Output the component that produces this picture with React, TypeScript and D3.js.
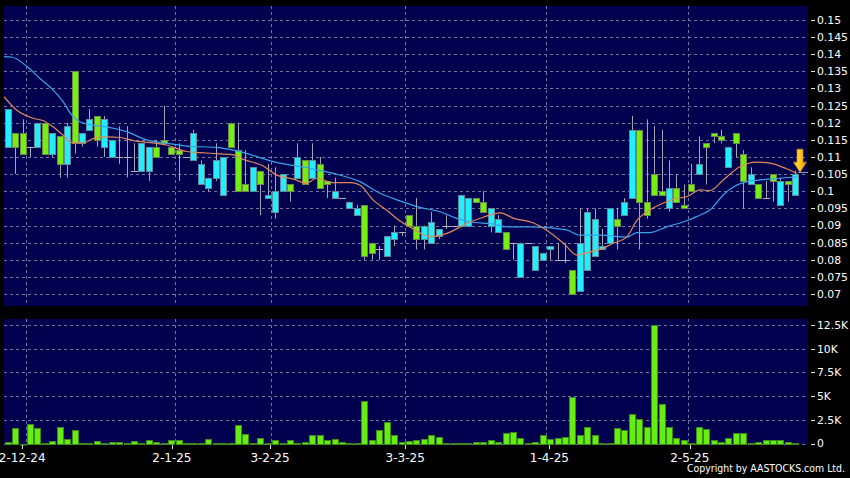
import React from "react";
import * as d3 from "d3";

// ---- Data ----
const opens = [
  0.124, 0.113, 0.111, 0.113, 0.120, 0.111, 0.117, 0.108, 0.119, 0.114,
  0.117, 0.121, 0.115, 0.121, 0.115, 0.110, 0.110, 0.106, 0.114, 0.113,
  0.110, 0.114, 0.111, 0.111, 0.110, 0.117, 0.108, 0.104, 0.109, 0.110,
  0.113, 0.100, 0.100, 0.107, 0.102, 0.099, 0.100, 0.105, 0.100, 0.110,
  0.102, 0.109, 0.101, 0.102, 0.100, 0.098, 0.097, 0.095, 0.081, 0.082,
  0.083, 0.087, 0.088, 0.088, 0.090, 0.086, 0.090, 0.091, 0.089, 0.090,
  0.090, 0.099, 0.098, 0.097, 0.094, 0.095, 0.092, 0.083, 0.085, 0.085,
  0.085, 0.084, 0.082, 0.084, 0.080, 0.080, 0.070, 0.085, 0.094, 0.092,
  0.084, 0.095, 0.090, 0.097, 0.118, 0.097, 0.093, 0.099, 0.099, 0.101,
  0.097, 0.095, 0.100, 0.108, 0.113, 0.116, 0.115, 0.113, 0.114, 0.103,
  0.105, 0.098, 0.098, 0.103, 0.103, 0.102, 0.105,
];
const closes = [
  0.113, 0.117, 0.117, 0.113, 0.113, 0.120, 0.111, 0.116, 0.108, 0.135,
  0.114, 0.118, 0.122, 0.113, 0.110, 0.110, 0.110, 0.106, 0.106, 0.106,
  0.113, 0.115, 0.113, 0.112, 0.110, 0.109, 0.102, 0.101, 0.104, 0.099,
  0.120, 0.112, 0.102, 0.100, 0.106, 0.098, 0.094, 0.100, 0.102, 0.104,
  0.109, 0.104, 0.108, 0.103, 0.098, 0.098, 0.095, 0.093, 0.096, 0.085,
  0.083, 0.081, 0.086, 0.088, 0.093, 0.090, 0.086, 0.085, 0.087, 0.090,
  0.090, 0.090, 0.090, 0.098, 0.097, 0.090, 0.088, 0.088, 0.085, 0.075,
  0.085, 0.077, 0.080, 0.083, 0.080, 0.080, 0.077, 0.071, 0.077, 0.081,
  0.083, 0.085, 0.092, 0.093, 0.098, 0.118, 0.097, 0.105, 0.100, 0.095,
  0.101, 0.096, 0.102, 0.105, 0.114, 0.117, 0.116, 0.107, 0.117, 0.111,
  0.102, 0.102, 0.098, 0.105, 0.096, 0.103, 0.099,
];
const highs = [
  0.124, 0.117, 0.121, 0.113, 0.120, 0.120, 0.117, 0.116, 0.120, 0.135,
  0.117, 0.124, 0.122, 0.122, 0.115, 0.119, 0.119, 0.114, 0.114, 0.113,
  0.115, 0.125, 0.113, 0.114, 0.110, 0.118, 0.109, 0.104, 0.114, 0.110,
  0.120, 0.120, 0.112, 0.107, 0.106, 0.108, 0.107, 0.105, 0.102, 0.114,
  0.109, 0.114, 0.110, 0.103, 0.104, 0.098, 0.097, 0.096, 0.096, 0.085,
  0.084, 0.087, 0.090, 0.088, 0.093, 0.098, 0.090, 0.094, 0.089, 0.093,
  0.090, 0.099, 0.098, 0.098, 0.100, 0.095, 0.093, 0.088, 0.085, 0.085,
  0.085, 0.084, 0.082, 0.084, 0.085, 0.085, 0.077, 0.095, 0.095, 0.095,
  0.089, 0.095, 0.095, 0.098, 0.122, 0.118, 0.121, 0.119, 0.118, 0.109,
  0.105, 0.102, 0.108, 0.116, 0.114, 0.117, 0.118, 0.113, 0.117, 0.112,
  0.107, 0.102, 0.103, 0.105, 0.104, 0.103, 0.106,
];
const lows = [
  0.113, 0.105, 0.111, 0.110, 0.113, 0.111, 0.110, 0.104, 0.104, 0.111,
  0.113, 0.118, 0.113, 0.110, 0.110, 0.108, 0.104, 0.106, 0.106, 0.103,
  0.110, 0.114, 0.111, 0.103, 0.110, 0.109, 0.102, 0.100, 0.103, 0.099,
  0.113, 0.100, 0.100, 0.100, 0.093, 0.098, 0.092, 0.100, 0.097, 0.104,
  0.102, 0.104, 0.101, 0.098, 0.098, 0.098, 0.095, 0.093, 0.080, 0.080,
  0.080, 0.081, 0.084, 0.087, 0.090, 0.083, 0.083, 0.085, 0.086, 0.089,
  0.090, 0.090, 0.090, 0.097, 0.094, 0.088, 0.088, 0.083, 0.080, 0.075,
  0.085, 0.077, 0.080, 0.080, 0.080, 0.079, 0.070, 0.071, 0.077, 0.081,
  0.083, 0.085, 0.083, 0.093, 0.098, 0.083, 0.092, 0.099, 0.099, 0.094,
  0.097, 0.095, 0.100, 0.105, 0.102, 0.114, 0.114, 0.107, 0.110, 0.095,
  0.102, 0.098, 0.098, 0.097, 0.096, 0.097, 0.099,
];
// volume in thousands
const volumes = [
  0.12, 1.65, 0.0, 2.05, 1.62, 0.03, 0.28, 1.75, 0.5, 1.42,
  0.02, 0.02, 0.28, 0.02, 0.12, 0.12, 0.02, 0.28, 0.02, 0.35,
  0.2, 0.05, 0.4, 0.35, 0.1, 0.1, 0.1, 0.5, 0.1, 0.03,
  0.03, 1.9, 1.05, 0.03, 0.55, 0.1, 0.4, 0.03, 0.4, 0.03,
  0.2, 0.85, 0.9, 0.4, 0.5, 0.12, 0.1, 0.1, 4.5, 0.35,
  1.4, 2.3, 0.85, 0.15, 0.25, 0.4, 0.45, 0.92, 0.65, 0.05,
  0.02, 0.05, 0.05, 0.15, 0.2, 0.42, 0.2, 1.15, 1.25, 0.56,
  0.02, 0.2, 0.92, 0.45, 0.55, 0.7, 4.95, 0.88, 1.78, 0.86,
  0.03, 0.02, 1.65, 1.4, 3.1, 2.55, 1.7, 12.45, 4.15, 1.76,
  0.57, 0.42, 0.08, 1.78, 1.5, 0.36, 0.15, 0.6, 1.12, 1.12,
  0.02, 0.12, 0.42, 0.42, 0.42, 0.15, 0.05,
];

// Moving averages: [candle index, value]
const maShort: [number, number][] = [
  [-0.5, 0.1276], [1.2, 0.1237], [3.4, 0.1213], [4.8, 0.1206], [6.1, 0.1188],
  [7.7, 0.1159], [8.6, 0.1142], [10.2, 0.1142], [11.7, 0.1155], [13.3, 0.1159],
  [15.1, 0.1157], [16.9, 0.1148], [19.2, 0.1142], [21.4, 0.1135], [24.1, 0.1116],
  [25.9, 0.1113], [28.6, 0.1109], [30.4, 0.1106], [31.7, 0.1093], [34.4, 0.1074],
  [36.2, 0.1047], [38.4, 0.1036], [40.2, 0.1023], [41.6, 0.1038], [43.8, 0.1025],
  [46.1, 0.1025], [47.4, 0.1018], [49.2, 0.0974], [51.0, 0.0945], [52.8, 0.0913],
  [54.6, 0.089], [56.8, 0.0867], [59.1, 0.0877], [61.8, 0.0906], [64.0, 0.0924],
  [66.3, 0.0937], [68.1, 0.0921], [70.7, 0.0908], [72.5, 0.0887], [74.8, 0.0848],
  [76.6, 0.0814], [78.4, 0.0823], [79.7, 0.083], [81.5, 0.0848], [83.3, 0.0866],
  [84.7, 0.0916], [86.4, 0.0945], [88.2, 0.0965], [90.0, 0.0979], [91.4, 0.0984],
  [93.2, 0.1004], [94.5, 0.1002], [96.3, 0.1033], [98.6, 0.1072], [100.8, 0.1085],
  [102.6, 0.1082], [104.7, 0.1067], [106.2, 0.1052],
];
const maLong: [number, number][] = [
  [-0.5, 0.1393], [0.5, 0.1392], [2.6, 0.1364], [4.3, 0.133], [6.1, 0.1296],
  [7.5, 0.126], [8.6, 0.1223], [9.7, 0.1203], [11.5, 0.1193], [13.3, 0.1188],
  [16.0, 0.1174], [18.7, 0.115], [21.4, 0.114], [24.1, 0.1132], [28.1, 0.1128],
  [30.4, 0.112], [36.6, 0.1082], [40.7, 0.1067], [43.8, 0.1052], [47.4, 0.1028],
  [50.1, 0.0994], [52.8, 0.0972], [55.5, 0.0953], [58.2, 0.094], [60.4, 0.0921],
  [62.2, 0.0911], [65.4, 0.0904], [67.2, 0.0896], [70.7, 0.0896], [75.2, 0.0887],
  [77.0, 0.0872], [79.7, 0.0872], [83.3, 0.0866], [84.7, 0.0879], [86.4, 0.0879],
  [88.7, 0.0896], [91.4, 0.0914], [92.7, 0.0926], [94.5, 0.0945], [96.3, 0.0989],
  [97.7, 0.1013], [99.5, 0.1028], [101.3, 0.1033], [103.9, 0.1038], [106.2, 0.1042],
];

const priceTicks = [0.07, 0.075, 0.08, 0.085, 0.09, 0.095, 0.1, 0.105, 0.11, 0.115, 0.12, 0.125, 0.13, 0.135, 0.14, 0.145, 0.15];
const priceTickLabels = ["0.07", "0.075", "0.08", "0.085", "0.09", "0.095", "0.1", "0.105", "0.11", "0.115", "0.12", "0.125", "0.13", "0.135", "0.14", "0.145", "0.15"];
const volTicks = [0, 2.5, 5, 7.5, 10, 12.5];
const volTickLabels = ["0", "2.5K", "5K", "7.5K", "10K", "12.5K"];
const dateGridIdx = [2.5, 22.5, 35.5, 53.5, 72.5, 91.5];
const dateLabelIdx = [1.95, 22.1, 35.3, 53.5, 72.9, 91.8];
const dateLabels = ["2-12-24", "2-1-25", "3-2-25", "3-3-25", "1-4-25", "2-5-25"];

// ---- Layout ----
const W = 850, H = 478;
const PX0 = 4, PX1 = 808;
const PY0 = 6, PY1 = 306;
const VY0 = 319, VY1 = 445;
const BG = "#00004e";
const GRID = "#7474a0";
const FONT = "'DejaVu Sans', Verdana, sans-serif";

export default function App() {
  const N = opens.length;
  const x = d3.scaleLinear().domain([0, N - 1]).range([7.7, 795.3]);
  const y = d3.scaleLinear().domain([0.07, 0.15]).range([294, 20]);
  const vy = d3.scaleLinear().domain([0, 12.5]).range([443.5, 325]);

  const lineGen = d3
    .line<[number, number]>()
    .x((d) => x(d[0]))
    .y((d) => y(d[1]))
    .curve(d3.curveMonotoneX);

  const bodyW = 6;
  const r = (v: number) => Math.round(v) + 0.5;

  const lastX = x(N - 1) + 4.7;
  const tipY = y(opens[N - 1]) - 2;

  return (
    <svg
      width={W}
      height={H}
      style={{ position: "absolute", left: 0, top: 0, display: "block" }}
      xmlns="http://www.w3.org/2000/svg"
    >
      <defs>
        <clipPath id="pclip">
          <rect x={PX0} y={PY0} width={PX1 - PX0} height={PY1 - PY0} />
        </clipPath>
        <linearGradient id="arrowGrad" x1="0" y1="0" x2="1" y2="0">
          <stop offset="0" stopColor="#ffe040" />
          <stop offset="0.5" stopColor="#ffc820" />
          <stop offset="1" stopColor="#e89010" />
        </linearGradient>
      </defs>
      <rect x={0} y={0} width={W} height={H} fill="#000" />
      <rect x={PX0} y={PY0} width={PX1 - PX0} height={PY1 - PY0} fill={BG} />
      <rect x={PX0} y={VY0} width={PX1 - PX0} height={VY1 - VY0} fill={BG} />

      {/* price grid */}
      {priceTicks.map((t, i) => (
        <line key={"pg" + i} x1={PX0} x2={PX1} y1={r(y(t))} y2={r(y(t))} stroke={GRID} strokeWidth={1} strokeDasharray="3,3" />
      ))}
      {volTicks.map((t, i) => (
        <line key={"vg" + i} x1={PX0} x2={PX1} y1={r(vy(t))} y2={r(vy(t))} stroke={GRID} strokeWidth={1} strokeDasharray="3,3" />
      ))}
      {dateGridIdx.map((d, i) => (
        <g key={"dg" + i}>
          <line x1={r(x(d))} x2={r(x(d))} y1={PY0} y2={PY1} stroke={GRID} strokeWidth={1} strokeDasharray="3,3" />
          <line x1={r(x(d))} x2={r(x(d))} y1={VY0} y2={VY1} stroke={GRID} strokeWidth={1} strokeDasharray="3,3" />
        </g>
      ))}

      {/* candles */}
      <g clipPath="url(#pclip)">
        {opens.map((o, i) => {
          const cx = Math.round(x(i));
          return (
            <line key={"w" + i} x1={cx + 0.5} x2={cx + 0.5} y1={y(highs[i])} y2={y(lows[i])} stroke="#a4a4b4" strokeWidth={1} />
          );
        })}
        {opens.map((o, i) => {
          const c = closes[i];
          const cx = Math.round(x(i));
          if (Math.abs(o - c) < 1e-9) {
            return (
              <line key={"b" + i} x1={cx - 3} x2={cx + 4} y1={r(y(o))} y2={r(y(o))} stroke="#b4b4b8" strokeWidth={1} />
            );
          }
          const up = c > o;
          const top = Math.round(y(Math.max(o, c)));
          const bot = Math.round(y(Math.min(o, c)));
          return (
            <rect
              key={"b" + i}
              x={cx - bodyW / 2 + 0.5}
              y={top + 0.5}
              width={bodyW}
              height={Math.max(1, bot - top)}
              fill={up ? "#77ee11" : "#22eeff"}
              stroke={up ? "#6a8a4a" : "#5a8c9c"}
              strokeWidth={1}
            />
          );
        })}
        <path d={lineGen(maLong) || ""} fill="none" stroke="#3aa2ec" strokeWidth={1.2} />
        <path d={lineGen(maShort) || ""} fill="none" stroke="#e0885a" strokeWidth={1.2} />
        <line x1={x(N - 1) + 3} x2={PX1} y1={r(tipY)} y2={r(tipY)} stroke="#9a9aaa" strokeWidth={1} />
      </g>

      {/* arrow marker */}
      <path
        d={`M${lastX - 3},${tipY - 23} L${lastX + 3},${tipY - 23} L${lastX + 3},${tipY - 10} L${lastX + 6.5},${tipY - 10} L${lastX},${tipY} L${lastX - 6.5},${tipY - 10} L${lastX - 3},${tipY - 10} Z`}
        fill="url(#arrowGrad)"
        stroke="#d88a10"
        strokeWidth={0.6}
      />

      {/* volume bars */}
      {volumes.map((v, i) => {
        const cx = Math.round(x(i));
        const top = Math.round(vy(v));
        const base = Math.round(vy(0));
        return (
          <rect
            key={"v" + i}
            x={cx - bodyW / 2 + 0.5}
            y={top + 0.5}
            width={bodyW}
            height={Math.max(0.5, base - top)}
            fill="#66ee11"
            stroke="#3c8a1c"
            strokeWidth={1}
          />
        );
      })}

      {/* price axis */}
      {priceTicks.map((t, i) => (
        <g key={"pt" + i}>
          <line x1={811} x2={815} y1={r(y(t))} y2={r(y(t))} stroke="#ddd" strokeWidth={1} />
          <text x={817} y={y(t)} dy="0.36em" fill="#fff" fontSize={10.8} fontFamily={FONT}>
            {priceTickLabels[i]}
          </text>
        </g>
      ))}
      {volTicks.map((t, i) => (
        <g key={"vt" + i}>
          <line x1={811} x2={815} y1={r(vy(t))} y2={r(vy(t))} stroke="#ddd" strokeWidth={1} />
          <text x={817} y={vy(t)} dy="0.36em" fill="#fff" fontSize={10.8} fontFamily={FONT}>
            {volTickLabels[i]}
          </text>
        </g>
      ))}

      {/* date axis */}
      {dateLabelIdx.map((d, i) => (
        <g key={"dt" + i}>
          <line x1={r(x(d))} x2={r(x(d))} y1={445} y2={449} stroke="#ddd" strokeWidth={1} />
          <text x={x(d)} y={461.5} textAnchor="middle" fill="#fff" fontSize={12} fontFamily={FONT}>
            {dateLabels[i]}
          </text>
        </g>
      ))}

      <text x={845} y={471.5} textAnchor="end" fill="#fff" fontSize={10.5} fontFamily={FONT} textLength={158} lengthAdjust="spacingAndGlyphs">
        Copyright by AASTOCKS.com Ltd.
      </text>
    </svg>
  );
}
